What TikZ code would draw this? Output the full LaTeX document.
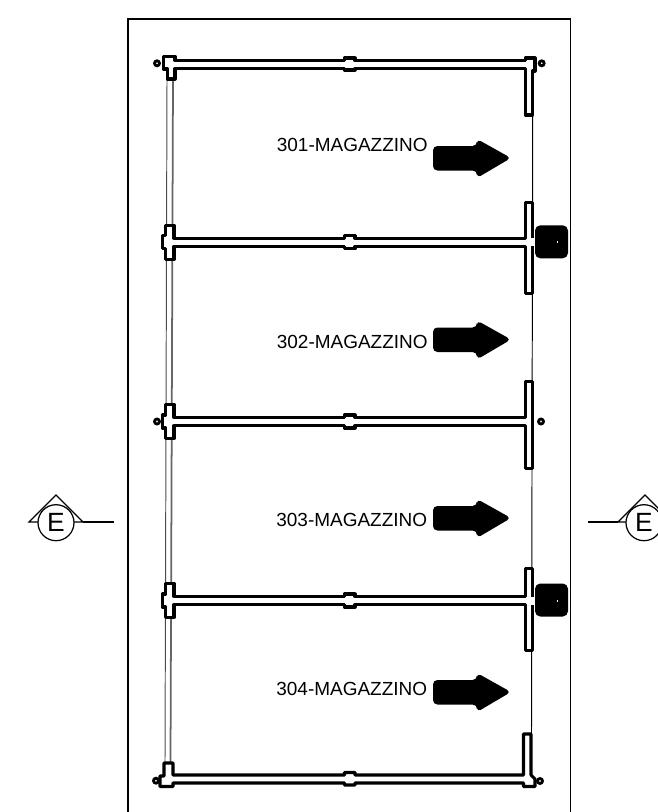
\documentclass[tikz,border=0pt]{standalone}
\usepackage{fontspec}
\setmainfont{Liberation Sans}
\usepackage{tikz}
\usetikzlibrary{positioning}

\begin{document}
\begin{tikzpicture}[
    x=.02cm, y=-.02cm,
    frame/.style={line width=.6pt},
    wall/.style={draw, line width=1.75pt, fill=white, line join=round},
    thin wall/.style={line width=.55pt},
    hinge/.style={draw, line width=1.6pt, fill=white},
    room/.style={inner sep=0pt, font=\fontsize{10.8pt}{12pt}\selectfont},
    section/.style={draw, circle, fill=white, line width=.7pt, minimum size=.72cm, inner sep=0pt, font=\fontsize{15pt}{16pt}\selectfont},
    pics/flowarrow/.style={code={
        \fill[rounded corners=2.5pt] (433,-12) -- (477,-12) -- (477,-19) -- (511,0) -- (477,20) -- (477,12.5) -- (433,12.5) -- cycle;
    }},
    pics/wallrow/.style 2 args={code={
        \draw[wall] (174,-4.2) -- (344.5,-4.2) -- (344.5,-6.5) -- (355,-6.5) -- (355,-4.2) -- (525.5,-4.2) -- (525.5,-#1) -- (532.5,-#1)
            -- (532.5,#2) -- (525.5,#2) -- (525.5,4.2) -- (355,4.2) -- (355,6.5) -- (344.5,6.5) -- (344.5,4.2) -- (174,4.2)
            -- (174,17) -- (165.7,17) -- (165.7,6.5) -- (162.5,6.5) -- (162.5,-6.5) -- (165.7,-6.5) -- (165.7,-17) -- (174,-17) -- cycle;
    }},
    pics/padbox/.style={code={
        \fill[rounded corners=3pt] (535,-17) rectangle (568,16);
        \fill[white] (530.5,-4) rectangle (535,4);
        \fill[white] (556.5,-1) rectangle (557.5,1);
    }}
    ]
\useasboundingbox (0,0) rectangle (658,812);

% outer frame
\draw[frame] (128,812) -- (128,19) -- (570.5,19) -- (570.5,812);

% partitions
\draw[thin wall, draw=black!70] (167,80) -- (165,762);
\draw[line width=1pt, draw=black!60] (173,80) -- (170.5,762);
\draw[thin wall] (532.7,116) -- (531.5,733);

% top wall
\draw[wall] (175,60.5) -- (344.5,60.5) -- (344.5,58) -- (355,58) -- (355,60.5) -- (525.5,60.5) -- (525.5,58) -- (535,58) -- (535,71)
    -- (532.5,71) -- (532.5,115) -- (525.5,115) -- (525.5,68.7) -- (355,68.7) -- (355,70) -- (344.5,70) -- (344.5,68.7) -- (175,68.7)
    -- (175,79) -- (167.5,79) -- (167.5,69) -- (163.5,69) -- (163.5,56.5) -- (175,56.5) -- cycle;
\draw[hinge] (157,63.3) circle (2.5);
\draw[hinge] (541.7,63.3) circle (2.5);

% middle walls
\pic at (0,242.3) {wallrow={40}{51}};
\pic at (0,242.3) {padbox};
\pic at (0,421.5) {wallrow={40}{47}};
\draw[hinge] (157,421.5) circle (2.5);
\draw[hinge] (541,421.5) circle (2.5);
\pic at (0,600.5) {wallrow={32}{50}};
\pic at (0,600.5) {padbox};

% bottom wall
\draw[wall] (173,775) -- (344.5,775) -- (344.5,772.5) -- (355,772.5) -- (355,775) -- (523.5,775) -- (523.5,734) -- (531,734) -- (531,775)
    -- (535,779) -- (535,786.5) -- (523.5,786.5) -- (523.5,783) -- (355,783) -- (355,785) -- (344.5,785) -- (344.5,783) -- (173,783)
    -- (173,786.5) -- (160,786.5) -- (160,776) -- (164,776) -- (164,763) -- (173,763) -- cycle;
\draw[hinge] (156,780.7) circle (2.5);
\draw[hinge] (540,781) circle (2.5);

% rooms
\node[room, anchor=west] (mag301) at (276.5,145) {301-MAGAZZINO};
\node[room, anchor=west] (mag302) at (276.5,342) {302-MAGAZZINO};
\node[room, anchor=west] (mag303) at (276,520) {303-MAGAZZINO};
\node[room, anchor=west] (mag304) at (276,689) {304-MAGAZZINO};
\pic at (0,158) {flowarrow};
\pic at (0,339.5) {flowarrow};
\pic at (0,518) {flowarrow};
\pic at (0,692) {flowarrow};

% section marks
\draw[line width=.7pt, fill=white] (29,522) -- (56,495) -- (83,522) -- cycle;
\node[section] (secleft) at (56,522.7) {E};
\coordinate (endleft) at (114,522);
\draw[line width=.7pt] (83,522) -- (endleft);
\draw[line width=.7pt, fill=white] (618,522) -- (645,495) -- (672,522) -- cycle;
\node[section] (secright) at (644,522.7) {E};
\coordinate (endright) at (588,522);
\draw[line width=.7pt] (618,522) -- (endright);
\end{tikzpicture}
\end{document}
